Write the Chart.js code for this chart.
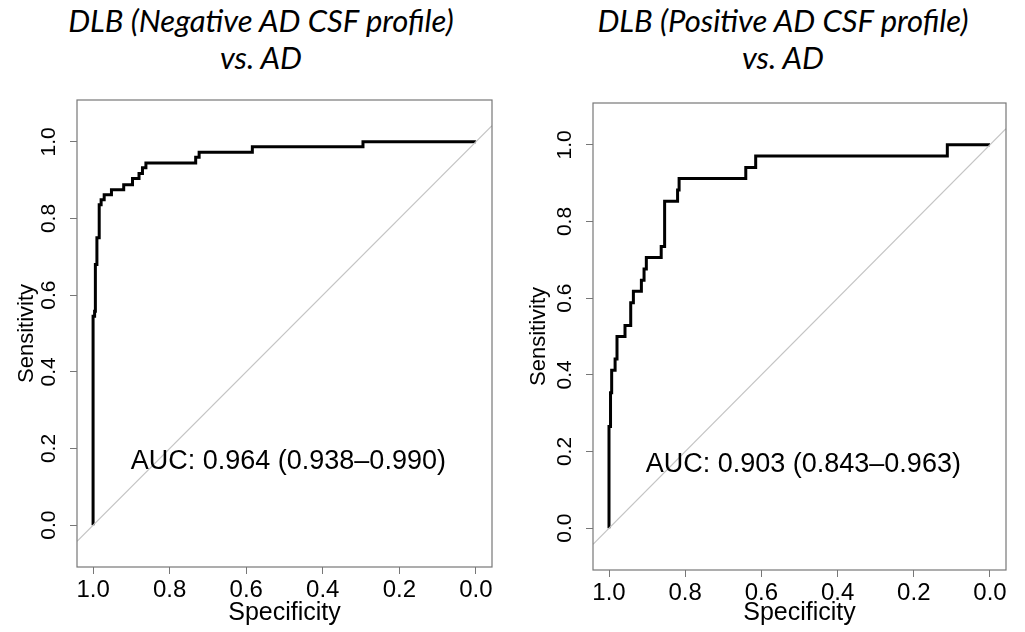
<!DOCTYPE html>
<html>
<head>
<meta charset="utf-8">
<title>ROC DLB vs AD</title>
<script src="https://cdn.jsdelivr.net/npm/chart.js@4.4.1/dist/chart.umd.min.js"></script>
<style>
  body { margin: 0; background: #fff; width: 1025px; height: 632px; overflow: hidden; position: relative; }
  .title { position: absolute; top: 2px; width: 480px; text-align: center; font-family: Lato, "Open Sans", sans-serif; font-style: italic; font-size: 31px; line-height: 37px; color: #000; }
  canvas { position: absolute; top: 0; }
</style>
</head>
<body>
<div class="title" style="left:21px">DLB (Negative AD CSF profile)<br>vs. AD</div>
<div class="title" style="left:543px">DLB (Positive AD CSF profile)<br>vs. AD</div>
<canvas id="rocNeg" width="512" height="632" style="left:0"></canvas>
<canvas id="rocPos" width="513" height="632" style="left:512px"></canvas>
<script>
// tick labels
const xTicks = [1.0, 0.8, 0.6, 0.4, 0.2, 0.0];
const yTicks = [0.0, 0.2, 0.4, 0.6, 0.8, 1.0];

// DLB (negative AD CSF profile) vs AD - corner points of the ROC step curve
const specNeg = [1.0, 0.996, 0.994, 0.990, 0.984, 0.979, 0.971, 0.952, 0.920, 0.897, 0.880, 0.871, 0.862, 0.732, 0.723, 0.584, 0.295, 0.0];
const sensNeg = [0.0, 0.545, 0.558, 0.680, 0.750, 0.836, 0.849, 0.862, 0.875, 0.888, 0.904, 0.917, 0.932, 0.945, 0.960, 0.973, 0.987, 1.0];
const aucNeg = 'AUC: 0.964 (0.938–0.990)';

// DLB (positive AD CSF profile) vs AD
const specPos = [1.0, 0.996, 0.993, 0.984, 0.979, 0.958, 0.943, 0.936, 0.915, 0.908, 0.902, 0.863, 0.854, 0.820, 0.816, 0.641, 0.615, 0.112, 0.0];
const sensPos = [0.0, 0.265, 0.353, 0.412, 0.441, 0.500, 0.529, 0.588, 0.618, 0.647, 0.676, 0.706, 0.735, 0.853, 0.882, 0.912, 0.941, 0.971, 1.0];
const aucPos = 'AUC: 0.903 (0.843–0.963)';

const X_MIN = -0.042, X_MAX = 1.042;
const Y_MIN = -0.109, Y_MAX = 1.109;
const AUC_AT = { x: 0.49, y: 0.167 };

// frame around plot + AUC text
const rocPlugin = {
  id: 'roc',
  afterDatasetsDraw(chart, args, opts) {
    const { ctx, chartArea: a, scales } = chart;
    ctx.save();
    ctx.strokeStyle = '#777';
    ctx.lineWidth = 1.2;
    ctx.strokeRect(a.left, a.top, a.right - a.left, a.bottom - a.top);
    ctx.fillStyle = '#000';
    ctx.font = '27px "Liberation Sans", Arial, sans-serif';
    ctx.textAlign = 'center';
    ctx.textBaseline = 'middle';
    ctx.fillText(opts.text, scales.x.getPixelForValue(AUC_AT.x), scales.y.getPixelForValue(AUC_AT.y));
    ctx.restore();
  }
};

function makeRoc(id, spec, sens, auc, box) {
  const points = spec.map((s, i) => ({ x: s, y: sens[i] }));
  return new Chart(document.getElementById(id), {
    type: 'scatter',
    data: {
      datasets: [
        {
          data: [{ x: X_MAX, y: 1 - X_MAX }, { x: X_MIN, y: 1 - X_MIN }],
          showLine: true,
          borderColor: '#c4c4c4',
          borderWidth: 1.2,
          pointRadius: 0
        },
        {
          data: points,
          showLine: true,
          stepped: 'after',
          borderColor: '#000',
          borderWidth: 3,
          pointRadius: 0
        }
      ]
    },
    options: {
      responsive: false,
      animation: false,
      events: [],
      layout: { padding: { top: box.top, right: box.right, left: 0, bottom: 0 } },
      plugins: {
        legend: { display: false },
        tooltip: { enabled: false },
        roc: { text: auc }
      },
      scales: {
        x: {
          type: 'linear',
          reverse: true,
          min: X_MIN,
          max: X_MAX,
          afterBuildTicks: s => { s.ticks = xTicks.map(v => ({ value: v })); },
          afterFit: s => { s.height = box.xHeight; },
          ticks: { color: '#000', padding: 2, font: { family: '"Liberation Sans", Arial', size: 24 }, callback: v => v.toFixed(1), maxRotation: 0 },
          grid: { drawOnChartArea: false, tickLength: 7, color: '#777' },
          border: { display: false },
          title: { display: true, text: 'Specificity', color: '#000', font: { family: '"Liberation Sans", Arial', size: 25 }, padding: { top: 0, bottom: 4 } }
        },
        y: {
          type: 'linear',
          min: Y_MIN,
          max: Y_MAX,
          afterBuildTicks: s => { s.ticks = yTicks.map(v => ({ value: v })); },
          afterFit: s => { s.width = box.yWidth; },
          ticks: { color: '#000', padding: 6, crossAlign: 'center', minRotation: 90, maxRotation: 90, font: { family: '"Liberation Sans", Arial', size: 21 }, callback: v => v.toFixed(1) },
          grid: { drawOnChartArea: false, tickLength: 7, color: '#777' },
          border: { display: false },
          title: { display: true, text: 'Sensitivity', color: '#000', font: { family: '"Liberation Sans", Arial', size: 22 }, padding: { top: 14, bottom: 0 } }
        }
      }
    },
    plugins: [rocPlugin]
  });
}

makeRoc('rocNeg', specNeg, sensNeg, aucNeg, { top: 100, right: 20, xHeight: 65, yWidth: 77 });
makeRoc('rocPos', specPos, sensPos, aucPos, { top: 103, right: 19, xHeight: 62, yWidth: 81 });
</script>
</body>
</html>
